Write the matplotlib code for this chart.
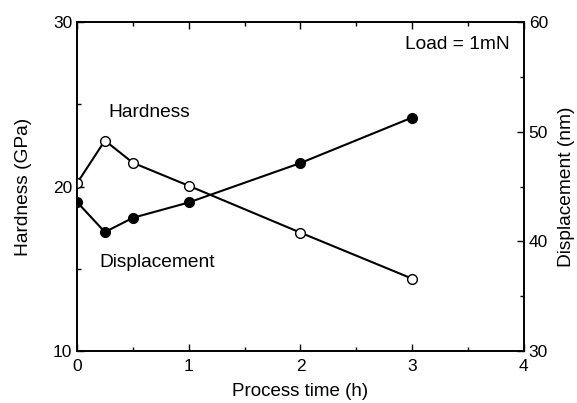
import matplotlib
matplotlib.use("Agg")
import matplotlib.pyplot as plt
from matplotlib.ticker import MultipleLocator

plt.rcParams['font.family'] = ['Liberation Sans', 'DejaVu Sans']

# process time (h)
time_h = [0, 0.25, 0.5, 1, 2, 3]
# hardness (GPa), left axis
hardness = [20.2, 22.8, 21.45, 20.05, 17.2, 14.4]
# displacement (nm), right axis
displacement = [43.6, 40.85, 42.15, 43.55, 47.15, 51.3]

fig = plt.figure(figsize=(5.77, 4.03), dpi=100)
ax = fig.add_axes([0.1334, 0.129, 0.7746, 0.816])
ax2 = ax.twinx()

ax.plot(time_h, hardness, color='black', lw=1.5, marker='o', ms=7,
        mfc='white', mec='black', mew=1.0, zorder=3)
ax2.plot(time_h, displacement, color='black', lw=1.5, marker='o', ms=7,
         mfc='black', mec='black', zorder=3)

ax.set_xlim(0, 4)
ax.set_ylim(10, 30)
ax2.set_ylim(30, 60)

ax.xaxis.set_major_locator(MultipleLocator(1))
ax.xaxis.set_minor_locator(MultipleLocator(0.5))
ax.yaxis.set_major_locator(MultipleLocator(10))
ax.yaxis.set_minor_locator(MultipleLocator(5))
ax2.yaxis.set_major_locator(MultipleLocator(10))
ax2.yaxis.set_minor_locator(MultipleLocator(5))

ax.tick_params(axis='both', which='both', direction='in', top=True,
               labelsize=12.5, width=1.0)
ax.tick_params(axis='y', which='both', right=False)
ax.tick_params(which='major', length=5)
ax.tick_params(which='minor', length=3)
ax.tick_params(axis='x', pad=6)
ax2.tick_params(axis='y', which='both', direction='in', labelsize=12.5, width=1.0)
ax2.tick_params(which='major', length=5)
ax2.tick_params(which='minor', length=3)

for a in (ax, ax2):
    for s in a.spines.values():
        s.set_linewidth(1.2)

ax.set_xlabel('Process time (h)', fontsize=13.5, labelpad=6)
ax.set_ylabel('Hardness (GPa)', fontsize=13.8, labelpad=15)
ax2.set_ylabel('Displacement (nm)', fontsize=13.8, labelpad=7)

ax.text(0.65, 24.5, 'Hardness', fontsize=13.8, ha='center', va='center')
ax.text(0.72, 15.4, 'Displacement', fontsize=13.8, ha='center', va='center')
ax.text(3.4, 28.65, 'Load = 1mN', fontsize=13.8, ha='center', va='center')

fig.savefig('out.png', dpi=100)
